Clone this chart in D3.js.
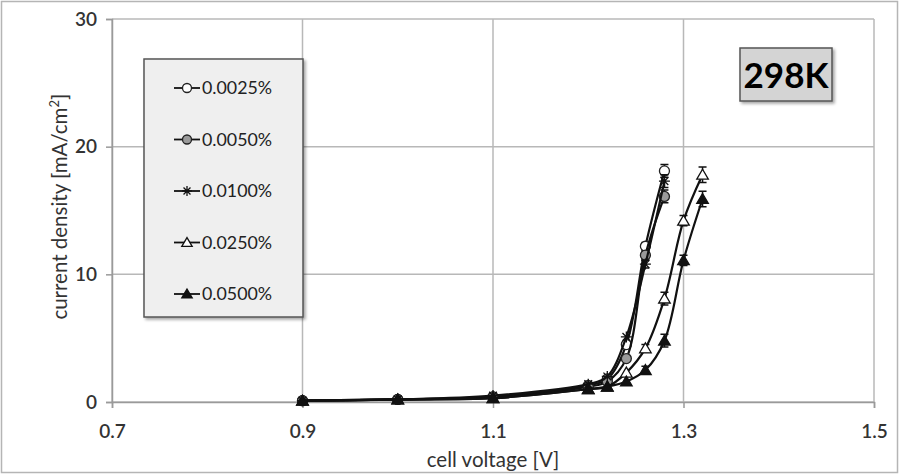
<!DOCTYPE html>
<html lang="en">
  <head>
    <meta charset="UTF-8" />
    <title>current density vs cell voltage</title>
    <script src="https://cdn.jsdelivr.net/npm/d3@7/dist/d3.min.js"></script>
    <style>
      body { margin: 0; background: #fff; }
      text { font-family: Lato, "Open Sans", sans-serif; }
    </style>
  </head>
  <body>
    <div id="wrapper"></div>
    <script>
      // data
      const voltage = [0.9, 1.0, 1.1, 1.2, 1.22, 1.24, 1.26, 1.28, 1.3, 1.32];
      const c0025 = [0.1, 0.2, 0.4, 1.3, 1.8, 4.5, 12.2, 18.1, null, null];
      const c0050 = [0.1, 0.2, 0.4, 1.2, 1.6, 3.4, 11.5, 16.1, null, null];
      const c0100 = [0.1, 0.2, 0.5, 1.4, 2.0, 5.1, 10.8, 17.3, null, null];
      const c0250 = [0.1, 0.2, 0.3, 1.0, 1.2, 2.3, 4.2, 8.1, 14.2, 17.8];
      const c0500 = [0.1, 0.2, 0.3, 1.0, 1.2, 1.6, 2.5, 4.8, 11.1, 15.9];
      const topError = [0, 0, 0, 0, 0, 0, 0.3, 0.5, 0.4, 0.6];
      const seriesNames = ["0.0025%", "0.0050%", "0.0100%", "0.0250%", "0.0500%"];
      const seriesValues = [c0025, c0050, c0100, c0250, c0500];
      const seriesMarkers = ["openCircle", "grayCircle", "star", "openTriangle", "filledTriangle"];
      const xTicks = [0.7, 0.9, 1.1, 1.3, 1.5];
      const yTicks = [0, 10, 20, 30];

      const dimensions = {
        width: 901,
        height: 476,
        margin: { top: 19, right: 27, bottom: 74, left: 112 },
      };
      dimensions.boundedWidth =
        dimensions.width - dimensions.margin.left - dimensions.margin.right;
      dimensions.boundedHeight =
        dimensions.height - dimensions.margin.top - dimensions.margin.bottom;

      const svg = d3
        .select("#wrapper")
        .append("svg")
        .attr("width", dimensions.width)
        .attr("height", dimensions.height);

      const defs = svg.append("defs");
      const shadow = defs.append("filter").attr("id", "shadow")
        .attr("x", "-10%").attr("y", "-10%").attr("width", "130%").attr("height", "130%");
      shadow.append("feDropShadow").attr("dx", 2).attr("dy", 2)
        .attr("stdDeviation", 1.5).attr("flood-color", "#000").attr("flood-opacity", 0.35);

      // outer frame
      svg.append("rect")
        .attr("x", 1.5).attr("y", 1.5)
        .attr("width", 896).attr("height", 471)
        .attr("fill", "none").attr("stroke", "#b5b5b5").attr("stroke-width", 1.5);

      const bounds = svg.append("g")
        .attr("transform", `translate(${dimensions.margin.left},${dimensions.margin.top})`);

      const xScale = d3.scaleLinear().domain([0.7, 1.5]).range([0, dimensions.boundedWidth]);
      const yScale = d3.scaleLinear().domain([0, 30]).range([dimensions.boundedHeight, 0]);

      // grid
      bounds.append("g").selectAll("line").data(xTicks).join("line")
        .attr("x1", d => xScale(d)).attr("x2", d => xScale(d))
        .attr("y1", 0).attr("y2", dimensions.boundedHeight)
        .attr("stroke", "#b8b8b8").attr("stroke-width", 1.5);
      bounds.append("g").selectAll("line").data(yTicks).join("line")
        .attr("x1", 0).attr("x2", dimensions.boundedWidth)
        .attr("y1", d => yScale(d)).attr("y2", d => yScale(d))
        .attr("stroke", "#b8b8b8").attr("stroke-width", 1.5);

      // axes
      const yAxis = bounds.append("g")
        .call(d3.axisLeft(yScale).tickValues(yTicks).tickSize(6).tickPadding(9).tickFormat(d3.format("d")));
      const xAxis = bounds.append("g")
        .attr("transform", `translate(0,${dimensions.boundedHeight})`)
        .call(d3.axisBottom(xScale).tickValues(xTicks).tickSize(6).tickPadding(17).tickFormat(d3.format(".1f")));
      [xAxis, yAxis].forEach(ax => {
        ax.select(".domain").attr("stroke", "#9a9a9a").attr("stroke-width", 1.5);
        ax.selectAll(".tick line").attr("stroke", "#9a9a9a").attr("stroke-width", 1.5);
        ax.selectAll(".tick text").attr("fill", "#333").style("font-size", "19px")
          .style("font-family", "Lato, sans-serif").style("font-weight", "600");
      });

      // axis titles
      svg.append("text")
        .attr("x", dimensions.margin.left + xScale(1.1))
        .attr("y", 467)
        .attr("text-anchor", "middle")
        .attr("fill", "#333").style("font-size", "20.5px")
        .text("cell voltage [V]");
      svg.append("text")
        .attr("transform", `translate(67,${dimensions.margin.top + yScale(15.3)}) rotate(-90)`)
        .attr("text-anchor", "middle")
        .attr("fill", "#333").style("font-size", "20.5px")
        .text("current density [mA/cm")
        .append("tspan").attr("baseline-shift", "super").style("font-size", "13px").text("2")
        .select(function () { return this.parentNode; })
        .append("tspan").text("]");

      // lines
      const lineGenerator = d3.line()
        .defined(d => d[1] != null)
        .x(d => xScale(d[0]))
        .y(d => yScale(d[1]))
        .curve(d3.curveCatmullRom.alpha(0.5));

      const drawMarker = (g, type, size) => {
        const r = size / 2;
        if (type === "openCircle" || type === "grayCircle") {
          g.append("circle").attr("r", r)
            .attr("fill", type === "openCircle" ? "#fff" : "#9a9a9a")
            .attr("stroke", "#222").attr("stroke-width", 1.3);
        } else if (type === "star") {
          const s = r * 1.1;
          g.append("path")
            .attr("d", `M${-s},0H${s}M${-s * 0.7},${-s * 0.7}L${s * 0.7},${s * 0.7}M${-s * 0.7},${s * 0.7}L${s * 0.7},${-s * 0.7}M0,${-s}V${s}`)
            .attr("stroke", "#111").attr("stroke-width", 1.3).attr("fill", "none");
        } else {
          const h = r * 1.1;
          g.append("path")
            .attr("d", `M0,${-h}L${h * 1.05},${h * 0.8}L${-h * 1.05},${h * 0.8}Z`)
            .attr("fill", type === "openTriangle" ? "#fff" : "#111")
            .attr("stroke", "#111").attr("stroke-width", 1.3);
        }
      };

      seriesValues.forEach((values, i) => {
        const pts = voltage.map((v, j) => [v, values[j], topError[j]]);
        bounds.append("path")
          .attr("d", lineGenerator(pts))
          .attr("fill", "none")
          .attr("stroke", "#111")
          .attr("stroke-width", 2.2);

        const valid = pts.filter(d => d[1] != null);
        // error bars
        bounds.append("g").selectAll("path").data(valid.filter(d => d[2] > 0)).join("path")
          .attr("d", d => {
            const x = xScale(d[0]);
            const y1 = yScale(d[1] + d[2]);
            const y2 = yScale(d[1] - d[2]);
            return `M${x},${y1}V${y2}M${x - 4},${y1}H${x + 4}M${x - 4},${y2}H${x + 4}`;
          })
          .attr("stroke", "#111").attr("stroke-width", 1.5).attr("fill", "none");

        const marks = bounds.append("g").selectAll("g").data(valid).join("g")
          .attr("transform", d => `translate(${xScale(d[0])},${yScale(d[1])})`);
        marks.each(function () { drawMarker(d3.select(this), seriesMarkers[i], 10); });
      });

      // legend
      const legend = svg.append("g").attr("transform", "translate(144,59)");
      legend.append("rect")
        .attr("width", 159).attr("height", 258)
        .attr("fill", "#efefef").attr("stroke", "#555").attr("stroke-width", 1.5)
        .attr("filter", "url(#shadow)");
      const legendRows = legend.selectAll(".item").data(seriesNames).join("g")
        .attr("class", "item")
        .attr("transform", (d, i) => `translate(0,${29 + i * 51.5})`);
      legendRows.append("line")
        .attr("x1", 30).attr("x2", 56)
        .attr("stroke", "#111").attr("stroke-width", 1.8);
      legendRows.each(function (d, i) {
        const g = d3.select(this).append("g").attr("transform", "translate(43,0)");
        drawMarker(g, seriesMarkers[i], 9);
      });
      legendRows.append("text")
        .attr("x", 58).attr("dy", "0.35em")
        .attr("fill", "#222").style("font-size", "17.8px")
        .text(d => d);

      // temperature label
      const tag = svg.append("g").attr("transform", "translate(740,48)");
      tag.append("rect")
        .attr("width", 92).attr("height", 53)
        .attr("fill", "#d4d4d4").attr("stroke", "#555").attr("stroke-width", 1.5)
        .attr("filter", "url(#shadow)");
      tag.append("text")
        .attr("x", 46).attr("y", 27).attr("dy", "0.36em")
        .attr("text-anchor", "middle")
        .attr("fill", "#000").style("font-size", "35px").style("font-weight", "bold")
        .text("298K");
    </script>
  </body>
</html>
